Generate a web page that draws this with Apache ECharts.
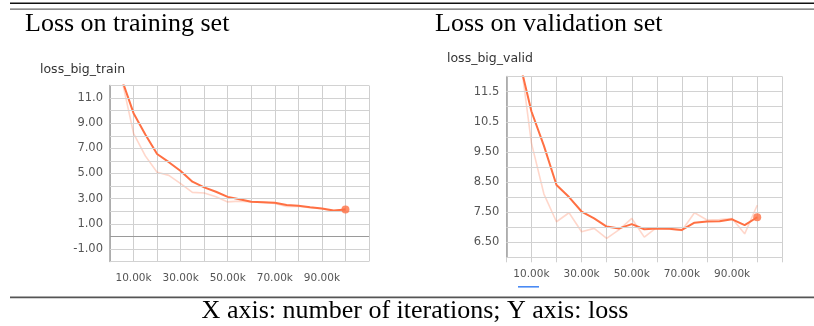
<!DOCTYPE html>
<html>
<head>
<meta charset="utf-8">
<script src="https://cdn.jsdelivr.net/npm/echarts@6/dist/echarts.min.js"></script>
<style>
html,body{margin:0;padding:0;background:#fff;}
#c{width:814px;height:326px;}
</style>
</head>
<body>
<div id="c"></div>
<script>
// iteration steps (x values)
const steps = [5000,10000,15000,20000,25000,30000,35000,40000,45000,50000,55000,60000,65000,70000,75000,80000,85000,90000,95000,100000];

// training loss: smoothed (dark) and raw (light)
const trainSmooth = [12.5,9.8,8.1,6.55,5.9,5.2,4.35,3.9,3.55,3.14,2.95,2.76,2.72,2.68,2.5,2.43,2.32,2.22,2.05,2.13];
const trainRaw    = [12.5,8.2,6.4,5.1,4.85,4.2,3.5,3.45,3.15,2.74,2.8,2.73,2.7,2.62,2.38,2.4,2.28,2.2,2.0,2.2];

// validation loss: smoothed (dark) and raw (light)
const validSmooth = [12.6,10.85,9.7,8.4,8.0,7.52,7.29,7.02,6.96,7.1,6.93,6.96,6.95,6.91,7.15,7.19,7.2,7.26,7.07,7.33];
const validRaw    = [13.0,9.8,8.1,7.18,7.48,6.85,6.96,6.63,6.92,7.29,6.67,6.99,6.93,6.89,7.48,7.24,7.25,7.29,6.78,7.73];

// axis ranges / tick labels
const xMin = 0, xMax = 110000, xStep = 10000;
const xLabelSteps = [10000,30000,50000,70000,90000];
const trainY = {min:-2, max:12, step:1, labels:[-1,1,3,5,7,9,11]};
const validY = {min:6, max:12, step:0.5, labels:[6.5,7.5,8.5,9.5,10.5,11.5]};

// text
const titleTrain = 'Loss on training set';
const titleValid = 'Loss on validation set';
const subTrain = 'loss_big_train';
const subValid = 'loss_big_valid';
const caption = 'X axis: number of iterations; Y axis: loss';

const ORANGE = '#ff7043';
const pairs = (ys) => steps.map((s,i)=>[s, ys[i]]);
const last = (ys) => [[steps[steps.length-1], ys[ys.length-1]]];
function tickValues(cfg){
  const out = [];
  const n = Math.round((cfg.max - cfg.min) / cfg.step);
  for (let i = 0; i <= n; i++) out.push(+(cfg.min + i*cfg.step).toFixed(6));
  return out;
}

function xAxisCfg(gi){
  return {
    type:'value', gridIndex:gi, min:xMin, max:xMax, interval:xStep,
    axisLine:{show:false},
    axisTick:{show:true, length:5, lineStyle:{color:'#cfcfcf'}},
    splitLine:{show:true, lineStyle:{color:'#cfcfcf', width:1}},
    axisLabel:{
      color:'#555', fontFamily:'DejaVu Sans', fontSize:10.5, margin:11,
      formatter:(v)=> xLabelSteps.indexOf(v) >= 0 ? (v/1000).toFixed(2)+'k' : ''
    }
  };
}
function yAxisCfg(gi, cfg){
  return {
    type:'value', gridIndex:gi, min:cfg.min, max:cfg.max, interval:cfg.step,
    axisLine:{show:true, onZero:false, lineStyle:{color:'#a0a0a0', width:1.5}},
    axisTick:{show:false},
    splitLine:{show:true, lineStyle:{color:'#d4d4d4', width:1}},
    axisLabel:{
      color:'#555', fontFamily:'DejaVu Sans', fontSize:11.5, margin:7,
      formatter:(v)=>{
        const hit = cfg.labels.some(l=>Math.abs(l-v)<1e-9);
        return hit ? Number(v).toPrecision(3) : '';
      }
    },
    z:3
  };
}
function seriesFor(gi, raw, smooth, cfg, zeroLine){
  const gridLines = tickValues(cfg).map(v=>({yAxis:v}));
  const arr = [
    // horizontal grid lines at every y tick
    {type:'line', xAxisIndex:gi, yAxisIndex:gi, data:[], showSymbol:false, silent:true, z:1,
     lineStyle:{opacity:0},
     markLine:{silent:true, symbol:'none', label:{show:false}, animation:false,
       lineStyle:{color:'#d2d2d2', width:1, type:'solid'}, data:gridLines}},
    {type:'line', xAxisIndex:gi, yAxisIndex:gi, data:pairs(raw), showSymbol:false, symbol:'none',
     lineStyle:{color:ORANGE, width:1.6, opacity:0.28}, z:3, silent:true,
     markLine: zeroLine ? {silent:true, symbol:'none', label:{show:false},
       lineStyle:{color:'#9a9a9a', width:1.2, type:'solid'}, data:[{yAxis:0}]} : undefined},
    {type:'line', xAxisIndex:gi, yAxisIndex:gi, data:pairs(smooth), showSymbol:false, symbol:'none',
     lineStyle:{color:ORANGE, width:2}, z:4, silent:true},
    {type:'scatter', xAxisIndex:gi, yAxisIndex:gi, data:last(smooth), symbolSize:8,
     itemStyle:{color:ORANGE}, z:5, silent:true}
  ];
  return arr;
}

const chart = echarts.init(document.getElementById('c'), null, {renderer:'canvas'});
chart.setOption({
  animation:false,
  backgroundColor:'#fff',
  grid:[
    {left:110, top:85.5, width:259, height:176, show:false},
    {left:506.3, top:76.6, width:276, height:180.7, show:false}
  ],
  xAxis:[xAxisCfg(0), xAxisCfg(1)],
  yAxis:[yAxisCfg(0, trainY), yAxisCfg(1, validY)],
  series:[...seriesFor(0, trainRaw, trainSmooth, trainY, true), ...seriesFor(1, validRaw, validSmooth, validY, false)],
  graphic:[
    {type:'rect', shape:{x:10, y:2.5, width:804, height:1.6}, style:{fill:'#111'}, silent:true},
    {type:'rect', shape:{x:10, y:8.6, width:804, height:1.2}, style:{fill:'#666'}, silent:true},
    {type:'rect', shape:{x:10, y:296.6, width:804, height:1.6}, style:{fill:'#555'}, silent:true},
    {type:'text', x:25, y:24, style:{text:titleTrain, font:'26px "Liberation Serif"', fill:'#000', textVerticalAlign:'middle'}, silent:true},
    {type:'text', x:435, y:24, style:{text:titleValid, font:'26px "Liberation Serif"', fill:'#000', textVerticalAlign:'middle'}, silent:true},
    {type:'text', x:40, y:70, style:{text:subTrain, font:'12.5px "DejaVu Sans"', fill:'#333', textVerticalAlign:'middle'}, silent:true},
    {type:'text', x:447, y:58.5, style:{text:subValid, font:'12.5px "DejaVu Sans"', fill:'#333', textVerticalAlign:'middle'}, silent:true},
    {type:'text', x:415, y:311.5, style:{text:caption, font:'26px "Liberation Serif"', fill:'#000', textAlign:'center', textVerticalAlign:'middle'}, silent:true},
    {type:'rect', shape:{x:518, y:286, width:21, height:1.6}, style:{fill:'#4a8af4'}, silent:true}
  ]
});
</script>
</body>
</html>
